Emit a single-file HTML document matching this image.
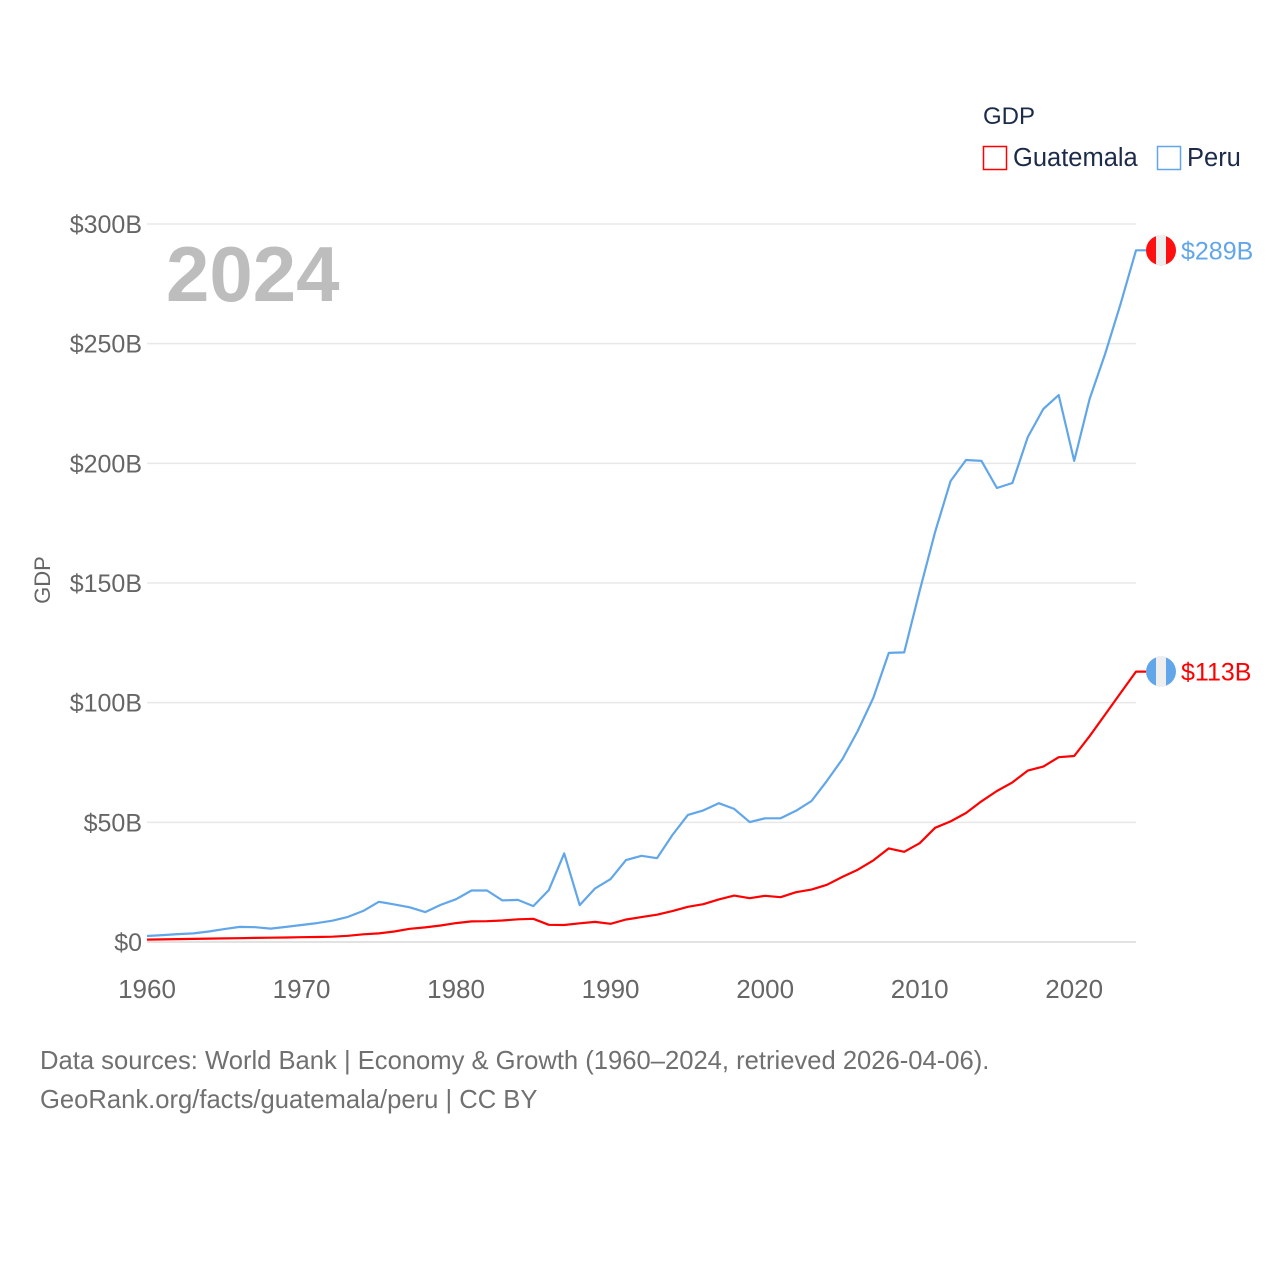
<!DOCTYPE html>
<html><head><meta charset="utf-8"><style>
body{margin:0;background:#fff;width:1280px;height:1280px;overflow:hidden;font-family:"Liberation Sans",sans-serif}
</style></head><body>
<svg id="chart" width="1280" height="1280" xmlns="http://www.w3.org/2000/svg" font-family="Liberation Sans, sans-serif">
<g id="grid"></g>
<g id="yaxis"></g>
<g id="xaxis"></g>
<text transform="translate(50,580) rotate(-90)" text-anchor="middle" font-size="22" fill="#666">GDP</text>
<text x="166" y="301" font-size="78" font-weight="bold" fill="#bdbdbd">2024</text>
<g>
<text x="983" y="124" font-size="24" fill="#1c2b4a">GDP</text>
<rect x="983.5" y="146.5" width="23" height="23" fill="none" stroke="#ff0000" stroke-width="1.5"/>
<text x="1013" y="166" font-size="25.5" fill="#1c2b4a">Guatemala</text>
<rect x="1157.5" y="146.5" width="23" height="23" fill="none" stroke="#62a6ea" stroke-width="1.5"/>
<text x="1187" y="166" font-size="25.5" fill="#1c2b4a">Peru</text>
</g>
<g id="series"></g>
<g id="ends"></g>
<text x="40" y="1069" font-size="25.6" fill="#707070">Data sources: World Bank | Economy &amp; Growth (1960–2024, retrieved 2026-04-06).</text>
<text x="40" y="1108" font-size="25.6" fill="#707070">GeoRank.org/facts/guatemala/peru | CC BY</text>
</svg>
<script>
const startYear = 1960;
const peruValues = [2.5,2.9,3.3,3.6,4.4,5.4,6.3,6.2,5.6,6.3,7.1,7.9,8.9,10.5,13,16.8,15.7,14.5,12.5,15.5,17.9,21.5,21.5,17.4,17.6,15,21.7,37,15.4,22.4,26.3,34.2,36,35,44.7,53.1,55,58,55.6,50.1,51.7,51.7,54.8,58.9,67.3,76.4,88.2,102,120.8,121,146.8,171.3,192.6,201.4,201,189.7,191.8,211,222.7,228.5,201,226.9,245.7,266.5,289];
const guatemalaValues = [1.0,1.1,1.2,1.3,1.4,1.5,1.6,1.7,1.8,1.9,2.0,2.1,2.2,2.6,3.2,3.6,4.4,5.5,6.1,6.9,7.9,8.6,8.7,9.0,9.5,9.7,7.2,7.1,7.8,8.4,7.6,9.4,10.4,11.4,12.9,14.7,15.8,17.8,19.4,18.3,19.3,18.7,20.8,21.9,23.9,27.2,30.2,34.1,39.1,37.7,41.3,47.7,50.4,53.9,58.8,63.1,66.7,71.6,73.3,77.2,77.7,86,95,104,113];
const yTicks = [0,50,100,150,200,250,300];
const yTickLabels = ["$0","$50B","$100B","$150B","$200B","$250B","$300B"];
const xTicks = [1960,1970,1980,1990,2000,2010,2020];

const NS="http://www.w3.org/2000/svg";
const X0=147,X1=1136,Y0=942,Y1=224;
const xs=y=>X0+(y-1960)/(2024-1960)*(X1-X0);
const ys=v=>Y0-v/300*(Y0-Y1);
function mk(tag,attrs,parent){const e=document.createElementNS(NS,tag);for(const k in attrs)e.setAttribute(k,attrs[k]);parent.appendChild(e);return e;}
const grid=document.getElementById('grid'),ya=document.getElementById('yaxis'),xa=document.getElementById('xaxis');
yTicks.forEach((t,i)=>{
  const l=mk('line',{x1:X0,x2:X1,y1:ys(t),y2:ys(t),stroke:t===0?'#d8d8d8':'#e8e8e8','stroke-width':1.5},grid);
  
  
  const tx=mk('text',{x:142,y:ys(t)+9,'text-anchor':'end','font-size':25,fill:'#666'},ya);
  tx.textContent=yTickLabels[i];
  
  
});
xTicks.forEach(t=>{
  const tx=mk('text',{x:xs(t),y:998,'text-anchor':'middle','font-size':26,fill:'#666'},xa);
  tx.textContent=t;
  
  
});
const ser=document.getElementById('series'),ends=document.getElementById('ends');
function draw(vals,color,name){
  let d=vals.map((v,i)=>(i?'L':'M')+xs(startYear+i).toFixed(1)+','+ys(v).toFixed(1)).join(' ');
  const last=vals[vals.length-1];
  d+=' L'+(X1+10)+','+ys(last).toFixed(1);
  const p=mk('path',{d:d,fill:'none',stroke:color,'stroke-width':2.2,'stroke-linejoin':'round'},ser);
  
  
  return last;
}
const pl=draw(peruValues,'#62a6ea','peru');
const gl=draw(guatemalaValues,'#ff0000','guatemala');
function flag(cx,cy,outer,inner,name){
  const g=mk('g',{},ends);
  
  
  const cp=mk('clipPath',{id:'c'+name},g);
  mk('circle',{cx:cx,cy:cy,r:15},cp);
  const gg=mk('g',{'clip-path':'url(#c'+name+')'},g);
  mk('rect',{x:cx-15,y:cy-15,width:30,height:30,fill:outer},gg);
  mk('rect',{x:cx-5,y:cy-15,width:10,height:30,fill:inner},gg);
}
function endLabel(v,color,name,flagOuter){
  const cy=ys(v);
  flag(1161,cy,flagOuter,'#eeeeee',name);
  const t=mk('text',{x:1181,y:cy+9,'font-size':25,fill:color},ends);
  t.textContent='$'+Math.round(v)+'B';
  
  
}
endLabel(pl,'#62a6ea','peru','#ff1010');
endLabel(gl,'#ff0000','guatemala','#62a6ea');
</script>
</body></html>
